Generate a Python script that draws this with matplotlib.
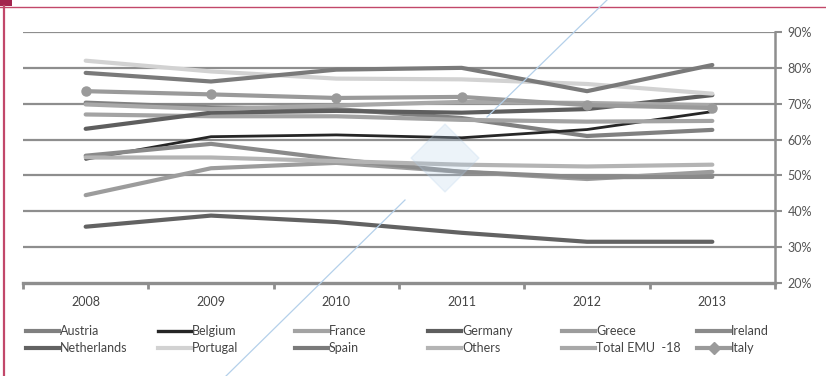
import numpy as np
import matplotlib
matplotlib.use("Agg")
import matplotlib.pyplot as plt
from matplotlib.patches import Rectangle, Polygon
from matplotlib.lines import Line2D

plt.rcParams["font.family"] = ["Lato", "DejaVu Sans"]

years = [2008, 2009, 2010, 2011, 2012, 2013]

austria = [70.3, 69.0, 68.5, 66.0, 61.0, 62.7]
belgium = [54.5, 60.8, 61.3, 60.5, 62.8, 67.8]
france = [67.0, 66.5, 66.5, 65.5, 65.0, 65.2]
germany = [63.0, 67.5, 68.0, 67.5, 68.5, 72.4]
greece = [44.5, 52.0, 53.5, 51.0, 49.0, 51.0]
ireland = [55.5, 58.8, 54.5, 51.0, 49.5, 49.6]
netherlands = [35.7, 38.8, 37.0, 34.0, 31.5, 31.5]
portugal = [82.0, 79.0, 77.0, 76.8, 75.5, 72.8]
spain = [78.6, 76.2, 79.5, 80.0, 73.5, 80.8]
others = [55.0, 55.0, 54.0, 53.0, 52.5, 53.0]
total_emu = [69.8, 68.5, 69.5, 70.5, 70.2, 69.6]
italy = [73.5, 72.6, 71.6, 71.9, 69.6, 68.8]

series = [
    ("Austria", austria, "#808080"),
    ("Belgium", belgium, "#262626"),
    ("France", france, "#a3a3a3"),
    ("Germany", germany, "#5e5e5e"),
    ("Greece", greece, "#9c9c9c"),
    ("Ireland", ireland, "#8a8a8a"),
    ("Netherlands", netherlands, "#626262"),
    ("Portugal", portugal, "#d2d2d2"),
    ("Spain", spain, "#7a7a7a"),
    ("Others", others, "#b4b4b4"),
    ("Total EMU  -18", total_emu, "#a8a8a8"),
    ("Italy", italy, "#9a9a9a"),
]

W, H = 826, 376
fig = plt.figure(figsize=(W / 100, H / 100), dpi=100)
fig.patch.set_facecolor("white")

ax = fig.add_axes([23 / W, 1 - 283 / H, (775 - 23) / W, (283 - 32) / H])
ax.set_facecolor("white")

grid_c = "#8e8e8e"
for v in range(30, 100, 10):
    ax.axhline(v, color=grid_c, lw=1.6, zorder=1)

for name, vals, col in series:
    if name == "Italy":
        ax.plot(years, vals, color=col, lw=3.0, marker="o", ms=6.5,
                solid_capstyle="round", zorder=4)
    else:
        lw = 2.0 if name == "Belgium" else 3.0
        ax.plot(years, vals, color=col, lw=lw, solid_capstyle="round", zorder=3)

ax.set_xlim(2007.5, 2013.5)
ax.set_ylim(20, 90)

ax.yaxis.tick_right()
ax.set_yticks(range(20, 100, 10))
ax.set_yticklabels([f"{v}%" for v in range(20, 100, 10)])
ax.tick_params(axis="y", which="both", direction="out", length=5, width=1.5,
               color=grid_c, labelsize=9, labelcolor="#555555", pad=4)

ax.set_xticks(np.arange(2007.5, 2014, 1.0))
ax.set_xticklabels([])
ax.set_xticks(years, minor=True)
ax.set_xticklabels([str(y) for y in years], minor=True)
ax.tick_params(axis="x", which="major", direction="out", length=4, width=2,
               color=grid_c)
ax.tick_params(axis="x", which="minor", length=0, labelsize=9,
               labelcolor="#444444", pad=9)

for s in ["top", "left"]:
    ax.spines[s].set_visible(False)
ax.spines["bottom"].set_color(grid_c)
ax.spines["bottom"].set_linewidth(2.4)
ax.spines["right"].set_color(grid_c)
ax.spines["right"].set_linewidth(1.8)

# legend drawn by hand: 6 columns x 2 rows, filled row by row
col_x = [26, 158, 295, 428, 562, 697]
row_y = [331, 348]
for i, (name, vals, col) in enumerate(series):
    x0 = col_x[i % 6]
    y0 = 1 - row_y[i // 6] / H
    lw = 2.4 if name == "Belgium" else 3.0
    fig.add_artist(Line2D([x0 / W, (x0 + 33) / W], [y0, y0], transform=fig.transFigure,
                          color=col, lw=lw))
    if name == "Italy":
        fig.add_artist(Line2D([(x0 + 16.5) / W], [y0], transform=fig.transFigure,
                              color=col, marker="D", ms=6.5, lw=0))
    fig.text((x0 + 34) / W, y0, name, fontsize=9, color="#444444",
             va="center", ha="left")

# page frame
fig.add_artist(Line2D([0, 1], [1 - 6.5 / H] * 2, transform=fig.transFigure,
                      color="#c2486a", lw=1.0))
fig.add_artist(Line2D([3.5 / W] * 2, [0, 1 - 6 / H], transform=fig.transFigure,
                      color="#c2486a", lw=1.6))
fig.add_artist(Rectangle((0, 1 - 6 / H), 12 / W, 6 / H, transform=fig.transFigure,
                         color="#a3254e", lw=0))

# faint watermark stroke
wm = "#b4d0ea"
fig.add_artist(Line2D([607 / W, 487 / W], [1, 1 - 117 / H], transform=fig.transFigure,
                      color=wm, lw=0.9, zorder=10))
fig.add_artist(Line2D([405 / W, 226 / W], [1 - 200 / H, 0], transform=fig.transFigure,
                      color=wm, lw=0.9, zorder=10))
cx, cy, r = 445, 158, 34
fig.add_artist(Polygon([((cx) / W, 1 - (cy - r) / H), ((cx + r) / W, 1 - cy / H),
                        ((cx) / W, 1 - (cy + r) / H), ((cx - r) / W, 1 - cy / H)],
                       closed=True, transform=fig.transFigure, facecolor=wm,
                       edgecolor=wm, lw=1.0, alpha=0.25, zorder=10))

fig.savefig("out.png", dpi=100)
